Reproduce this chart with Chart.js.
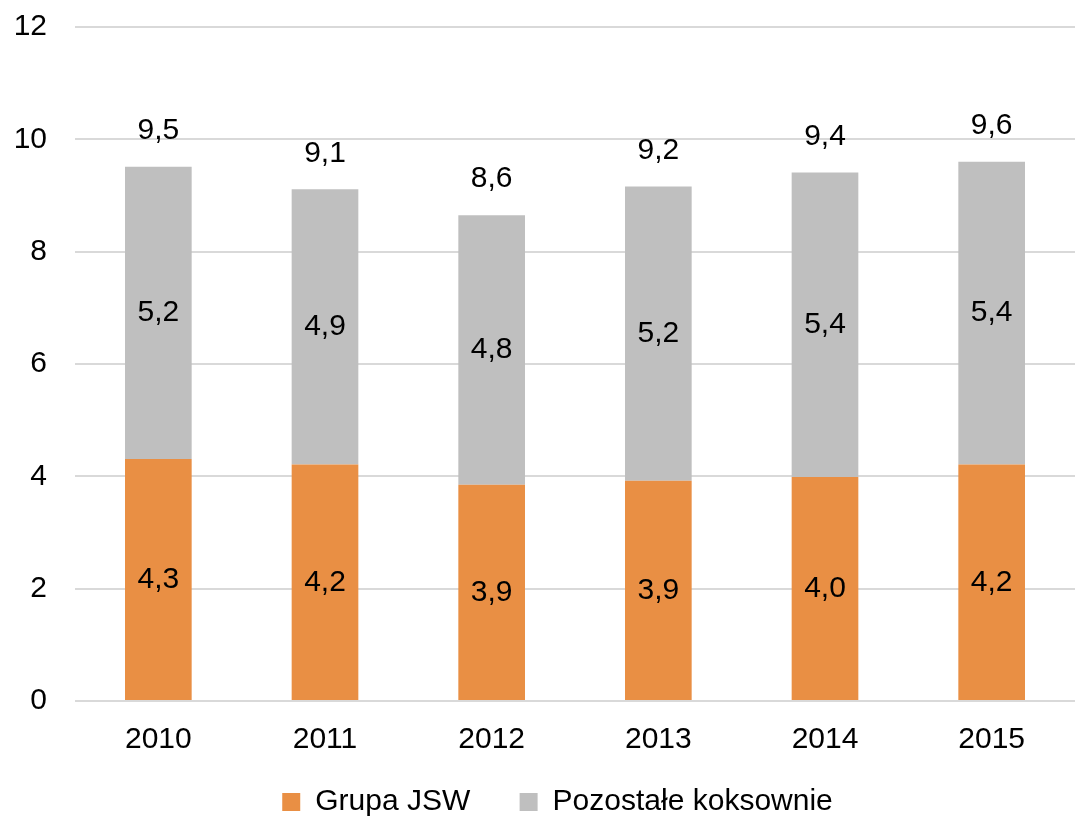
<!DOCTYPE html>
<html>
<head>
<meta charset="utf-8">
<script src="https://cdn.jsdelivr.net/npm/chart.js@4/dist/chart.umd.min.js"></script>
<style>
  html, body { margin: 0; padding: 0; background: #fff; overflow: hidden; }
  #wrap { width: 1115px; height: 827px; }
</style>
</head>
<body>
<div id="wrap"><canvas id="chart"></canvas></div>
<script>
const years = ['2010', '2011', '2012', '2013', '2014', '2015'];
const grupaJsw = [4.31, 4.21, 3.85, 3.92, 3.99, 4.21];
const pozostale = [5.2, 4.9, 4.8, 5.24, 5.42, 5.39];
const jswLabels = ['4,3', '4,2', '3,9', '3,9', '4,0', '4,2'];
const pozLabels = ['5,2', '4,9', '4,8', '5,2', '5,4', '5,4'];
const totalLabels = ['9,5', '9,1', '8,6', '9,2', '9,4', '9,6'];

const FONT = '"Liberation Sans", Arial, sans-serif';
const SIZE = 30;

// draws the value labels inside the bars and the totals above them
const valueLabels = {
    id: 'valueLabels',
    afterDatasetsDraw(chart) {
        const ctx = chart.ctx;
        ctx.save();
        ctx.font = SIZE + 'px ' + FONT;
        ctx.fillStyle = '#000';
        ctx.textAlign = 'center';
        ctx.textBaseline = 'middle';
        const m0 = chart.getDatasetMeta(0);
        const m1 = chart.getDatasetMeta(1);
        m0.data.forEach((bar, i) => {
            ctx.fillText(jswLabels[i], bar.x, (bar.y + bar.base) / 2);
        });
        m1.data.forEach((bar, i) => {
            ctx.fillText(pozLabels[i], bar.x, (bar.y + bar.base) / 2);
            ctx.fillText(totalLabels[i], bar.x, bar.y - 36);
        });
        ctx.restore();
    }
};

new Chart(document.getElementById('chart'), {
    type: 'bar',
    data: {
        labels: years,
        datasets: [
            {
                label: 'Grupa JSW',
                data: grupaJsw,
                backgroundColor: '#e98f44',
                categoryPercentage: 1,
                barPercentage: 0.4,
            },
            {
                label: 'Pozostałe koksownie',
                data: pozostale,
                backgroundColor: '#bfbfbf',
                categoryPercentage: 1,
                barPercentage: 0.4,
            },
        ],
    },
    options: {
        responsive: true,
        maintainAspectRatio: false,
        animation: false,
        layout: { padding: { top: 27, right: 0, left: 0, bottom: 0 } },
        plugins: {
            legend: {
                position: 'bottom',
                labels: {
                    font: { family: FONT, size: SIZE },
                    color: '#000',
                    boxWidth: 18,
                    boxHeight: 18,
                    padding: 16,
                    // a bit more room between the two entries
                    generateLabels: (chart) => {
                        const items = Chart.defaults.plugins.legend.labels.generateLabels(chart);
                        items[0].text += '\u00a0\u00a0\u00a0\u00a0';
                        return items;
                    },
                },
            },
            tooltip: { enabled: false },
        },
        scales: {
            x: {
                stacked: true,
                grid: { display: false },
                border: { display: false },
                ticks: { font: { family: FONT, size: SIZE, lineHeight: 0.8 }, color: '#000', padding: 19 },
                afterFit: (axis) => { axis.paddingRight = 40; },
            },
            y: {
                stacked: true,
                min: 0,
                max: 12,
                ticks: { stepSize: 2, font: { family: FONT, size: SIZE }, color: '#000', padding: 28 },
                grid: { color: '#d9d9d9', lineWidth: 2, drawTicks: false },
                border: { display: false },
                afterFit: (axis) => { axis.width = 75; axis.paddingTop = 0; axis.paddingBottom = 0; },
            },
        },
    },
    plugins: [valueLabels],
});
</script>
</body>
</html>
